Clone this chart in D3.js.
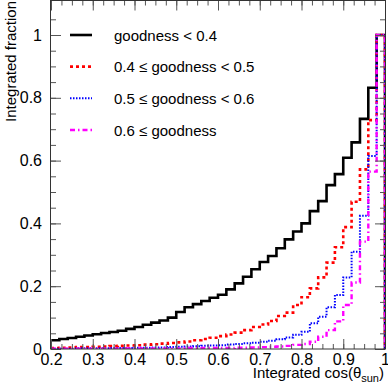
<!DOCTYPE html>
<html>
<head>
<meta charset="utf-8">
<script src="https://cdn.jsdelivr.net/npm/d3@7"></script>
<style>
	html, body { margin: 0; padding: 0; background: #fff; }
	svg text { font-family: 'Liberation Sans', Arial, sans-serif; }
</style>
</head>
<body>
<div id="chart"></div>
<script>
// Lower edges of the 0.02-wide bins shown (0.2 .. 0.98)
const binLow = [
	0.20, 0.22, 0.24, 0.26, 0.28, 0.30, 0.32, 0.34, 0.36, 0.38,
	0.40, 0.42, 0.44, 0.46, 0.48, 0.50, 0.52, 0.54, 0.56, 0.58,
	0.60, 0.62, 0.64, 0.66, 0.68, 0.70, 0.72, 0.74, 0.76, 0.78,
	0.80, 0.82, 0.84, 0.86, 0.88, 0.90, 0.92, 0.94, 0.96, 0.98
];
const binWidth = 0.02;

// Integrated fraction per bin, one array per goodness selection
const goodLt04 = [
	0.028, 0.032, 0.035, 0.039, 0.043, 0.047, 0.051, 0.054, 0.058, 0.064,
	0.070, 0.077, 0.084, 0.091, 0.100, 0.118, 0.133, 0.143, 0.153, 0.163,
	0.173, 0.190, 0.209, 0.230, 0.254, 0.277, 0.296, 0.321, 0.349, 0.374,
	0.400, 0.439, 0.471, 0.522, 0.557, 0.609, 0.658, 0.733, 0.832, 1.000
];
const good04to05 = [
	0.003, 0.004, 0.005, 0.006, 0.006, 0.007, 0.008, 0.009, 0.010, 0.011,
	0.012, 0.014, 0.015, 0.017, 0.019, 0.021, 0.024, 0.028, 0.032, 0.036,
	0.041, 0.046, 0.052, 0.060, 0.070, 0.078, 0.089, 0.105, 0.116, 0.140,
	0.165, 0.193, 0.228, 0.275, 0.324, 0.388, 0.469, 0.572, 0.729, 1.000
];
const good05to06 = [
	0.001, 0.001, 0.001, 0.002, 0.002, 0.002, 0.002, 0.003, 0.003, 0.003,
	0.004, 0.004, 0.005, 0.005, 0.006, 0.007, 0.008, 0.009, 0.010, 0.011,
	0.012, 0.014, 0.016, 0.018, 0.020, 0.023, 0.026, 0.031, 0.037, 0.045,
	0.055, 0.082, 0.103, 0.133, 0.172, 0.228, 0.310, 0.424, 0.615, 1.000
];
const goodGe06 = [
	0.001, 0.001, 0.001, 0.001, 0.001, 0.001, 0.001, 0.001, 0.001, 0.002,
	0.002, 0.002, 0.002, 0.002, 0.002, 0.002, 0.003, 0.003, 0.003, 0.003,
	0.003, 0.003, 0.004, 0.004, 0.005, 0.006, 0.007, 0.008, 0.010, 0.013,
	0.016, 0.023, 0.039, 0.060, 0.088, 0.140, 0.212, 0.342, 0.565, 1.000
];

const legendLabels = [
	'goodness < 0.4',
	'0.4 \u2264 goodness < 0.5',
	'0.5 \u2264 goodness < 0.6',
	'0.6 \u2264 goodness'
];
const xTicks = [0.2, 0.3, 0.4, 0.5, 0.6, 0.7, 0.8, 0.9, 1.0];
const yTicks = [0, 0.2, 0.4, 0.6, 0.8, 1.0];

const series = [
	{ values: goodLt04, color: '#000000', width: 2.6, dash: null },
	{ values: good04to05, color: '#ff0000', width: 2.6, dash: '3,3' },
	{ values: good05to06, color: '#0000ff', width: 2, dash: '1.5,1.5' },
	{ values: goodGe06, color: '#ff00ff', width: 2.4, dash: '5,3,1.5,3' }
];

const W = 388, H = 383;
const frame = { left: 51, right: 385, top: 0.5, bottom: 349 };

const xScale = d3.scaleLinear().domain([0.2, 1.0]).range([frame.left, frame.right]);
// y = 1 sits at pixel 35, y = 0 at 349
const yScale = d3.scaleLinear().domain([0, 1]).range([frame.bottom, 35]);

const svg = d3.select('#chart')
	.append('svg')
	.attr('width', W)
	.attr('height', H);

// Clip the histograms to the frame
svg.append('defs').append('clipPath').attr('id', 'frame-clip')
	.append('rect')
	.attr('x', frame.left)
	.attr('y', 0)
	.attr('width', frame.right - frame.left)
	.attr('height', frame.bottom);

// Step outline for one histogram
const stepLine = d3.line()
	.x((d) => xScale(d[0]))
	.y((d) => yScale(d[1]));

const stepPoints = (values) => {
	const pts = [];
	binLow.forEach((lo, i) => {
		pts.push([lo, values[i]]);
		pts.push([lo + binWidth, values[i]]);
	});
	pts.push([binLow[binLow.length - 1] + binWidth, 0]);
	return pts;
};

const plot = svg.append('g').attr('clip-path', 'url(#frame-clip)');
series.forEach((s) => {
	plot.append('path')
		.attr('d', stepLine(stepPoints(s.values)))
		.attr('fill', 'none')
		.attr('stroke', s.color)
		.attr('stroke-width', s.width)
		.attr('stroke-dasharray', s.dash)
		.attr('stroke-linejoin', 'miter');
});

// Axes: ROOT style, ticks pointing into the frame
const tickColor = '#555';
const xMinor = d3.range(0.2, 1.0001, 0.025);
const yMinor = d3.range(0, 1.1, 0.05);

const styleAxis = (g) => {
	g.select('.domain').remove();
	g.selectAll('.tick line').attr('stroke', tickColor);
	g.selectAll('text')
		.attr('fill', '#000')
		.style('font-size', '16px')
		.style('font-family', "'Liberation Sans', Arial, sans-serif");
};

const fmt = (d) => (d === 0 ? '0' : d === 1 ? '1' : d3.format('.1f')(d));

svg.append('g')
	.attr('transform', `translate(0,${frame.bottom})`)
	.call(d3.axisBottom(xScale).tickValues(xMinor).tickSize(-5).tickFormat(''))
	.call(styleAxis);
svg.append('g')
	.attr('transform', `translate(0,${frame.bottom})`)
	.call(d3.axisBottom(xScale).tickValues(xTicks).tickSize(-10).tickPadding(5).tickFormat(fmt))
	.call(styleAxis);
svg.append('g')
	.attr('transform', `translate(0,${frame.top})`)
	.call(d3.axisTop(xScale).tickValues(xMinor).tickSize(-5).tickFormat(''))
	.call(styleAxis);
svg.append('g')
	.attr('transform', `translate(0,${frame.top})`)
	.call(d3.axisTop(xScale).tickValues(xTicks).tickSize(-10).tickFormat(''))
	.call(styleAxis);

svg.append('g')
	.attr('transform', `translate(${frame.left},0)`)
	.call(d3.axisLeft(yScale).tickValues(yMinor).tickSize(-5).tickFormat(''))
	.call(styleAxis);
svg.append('g')
	.attr('transform', `translate(${frame.left},0)`)
	.call(d3.axisLeft(yScale).tickValues(yTicks).tickSize(-10).tickPadding(9).tickFormat(fmt))
	.call(styleAxis);
svg.append('g')
	.attr('transform', `translate(${frame.right},0)`)
	.call(d3.axisRight(yScale).tickValues(yMinor).tickSize(-5).tickFormat(''))
	.call(styleAxis);
svg.append('g')
	.attr('transform', `translate(${frame.right},0)`)
	.call(d3.axisRight(yScale).tickValues(yTicks).tickSize(-10).tickFormat(''))
	.call(styleAxis);

// Frame
svg.append('rect')
	.attr('x', frame.left - 0.5)
	.attr('y', frame.top)
	.attr('width', frame.right - frame.left + 1)
	.attr('height', frame.bottom - frame.top)
	.attr('fill', 'none')
	.attr('stroke', '#333')
	.attr('stroke-width', 1);

// Axis titles
svg.append('text')
	.attr('transform', 'translate(16,1) rotate(-90)')
	.attr('text-anchor', 'end')
	.style('font-size', '15px')
	.text('Integrated fraction');

const xTitle = svg.append('text')
	.attr('x', 384)
	.attr('y', 378)
	.attr('text-anchor', 'end')
	.style('font-size', '15px');
xTitle.append('tspan').text('Integrated cos(\u03b8');
xTitle.append('tspan').attr('dy', 4).style('font-size', '11px').text('sun');
xTitle.append('tspan').attr('dy', -4).text(')');

// Legend
const legend = svg.append('g');
const legendY = d3.scalePoint().domain(legendLabels).range([35, 130]);
legendLabels.forEach((label, i) => {
	const y = legendY(label);
	legend.append('line')
		.attr('x1', 70).attr('x2', 92)
		.attr('y1', y).attr('y2', y)
		.attr('stroke', series[i].color)
		.attr('stroke-width', series[i].width)
		.attr('stroke-dasharray', series[i].dash);
	legend.append('text')
		.attr('x', 114)
		.attr('y', y + 5.5)
		.style('font-size', '15px')
		.text(label);
});
</script>
</body>
</html>
